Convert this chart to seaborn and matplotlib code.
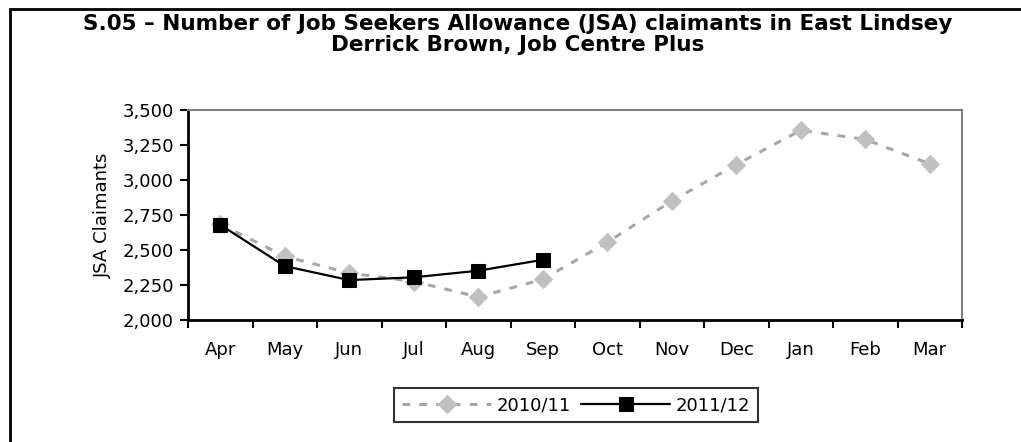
import pandas as pd
import matplotlib
matplotlib.use('Agg')
import matplotlib.pyplot as plt
from matplotlib.lines import Line2D
from matplotlib.ticker import FuncFormatter, FixedLocator
import seaborn as sns

months = ['Apr', 'May', 'Jun', 'Jul', 'Aug', 'Sep', 'Oct', 'Nov', 'Dec', 'Jan', 'Feb', 'Mar']
jsa_2010 = [2685, 2455, 2335, 2275, 2165, 2290, 2555, 2850, 3110, 3355, 3290, 3115]
jsa_2011 = [2680, 2385, 2285, 2305, 2352, 2430]

sns.set_theme(style='white')
plt.rcParams['font.family'] = ['DejaVu Sans']
plt.rcParams['text.color'] = 'black'
plt.rcParams['xtick.color'] = 'black'
plt.rcParams['ytick.color'] = 'black'
plt.rcParams['axes.labelcolor'] = 'black'

fig = plt.figure(figsize=(10.21, 4.42), dpi=100)
ax = fig.add_axes([188 / 1021, 1 - 320 / 442, (962 - 188) / 1021, (320 - 110) / 442])

x10 = list(range(len(jsa_2010)))
x11 = list(range(len(jsa_2011)))
sns.lineplot(x=x10, y=jsa_2010, ax=ax, color='#a6a6a6', linestyle=(0, (2.5, 3)), linewidth=2.2,
             marker='D', markersize=9, markerfacecolor='#c0c0c0', markeredgecolor='#c0c0c0',
             label='2010/11')
sns.lineplot(x=x11, y=jsa_2011, ax=ax, color='black', linewidth=1.6,
             marker='s', markersize=10, markerfacecolor='black', markeredgecolor='black',
             label='2011/12')

ax.set_xlim(-0.5, len(months) - 0.5)
ax.set_ylim(2000, 3500)
ax.set_yticks(range(2000, 3501, 250))
ax.yaxis.set_major_formatter(FuncFormatter(lambda v, p: f'{int(v):,}'))
ax.xaxis.set_major_locator(FixedLocator([i - 0.5 for i in range(len(months) + 1)]))
ax.xaxis.set_minor_locator(FixedLocator(list(range(len(months)))))
ax.set_xticklabels([''] * (len(months) + 1))
ax.set_xticklabels(months, minor=True)
ax.tick_params(axis='x', which='major', direction='out', length=6, width=1.5, color='black', bottom=True)
ax.tick_params(axis='x', which='minor', length=0, pad=15, labelsize=13)
ax.tick_params(axis='y', direction='out', length=6, width=1.5, color='black', left=True, labelsize=13, pad=4)
ax.set_ylabel('JSA Claimants', fontsize=13, labelpad=8)
ax.set_xlabel('')

for side in ['left', 'bottom']:
    ax.spines[side].set_color('black')
    ax.spines[side].set_linewidth(2)
for side in ['top', 'right']:
    ax.spines[side].set_color('#808080')
    ax.spines[side].set_linewidth(1.5)

leg = ax.legend(loc='center', bbox_to_anchor=(576 / 1021, 1 - 405 / 442), bbox_transform=fig.transFigure,
                ncol=2, frameon=True, fancybox=False, fontsize=13, handlelength=4.9,
                columnspacing=0.6, handletextpad=0.3, borderpad=0.45)
leg.get_frame().set_edgecolor('black')
leg.get_frame().set_linewidth(1.5)

fig.text(518 / 1021, 1 - 24 / 442, 'S.05 – Number of Job Seekers Allowance (JSA) claimants in East Lindsey',
         ha='center', va='center', fontsize=15.5, fontweight='bold')
fig.text(518 / 1021, 1 - 45 / 442, 'Derrick Brown, Job Centre Plus',
         ha='center', va='center', fontsize=15.5, fontweight='bold')

# figure border (left and top only visible)
fig.add_artist(Line2D([10 / 1021, 10 / 1021], [0, 1 - 9 / 442], transform=fig.transFigure,
                      color='black', linewidth=2))
fig.add_artist(Line2D([10 / 1021, 1], [1 - 9 / 442, 1 - 9 / 442], transform=fig.transFigure,
                      color='black', linewidth=2))

fig.savefig('out.png', dpi=100, facecolor='white')
